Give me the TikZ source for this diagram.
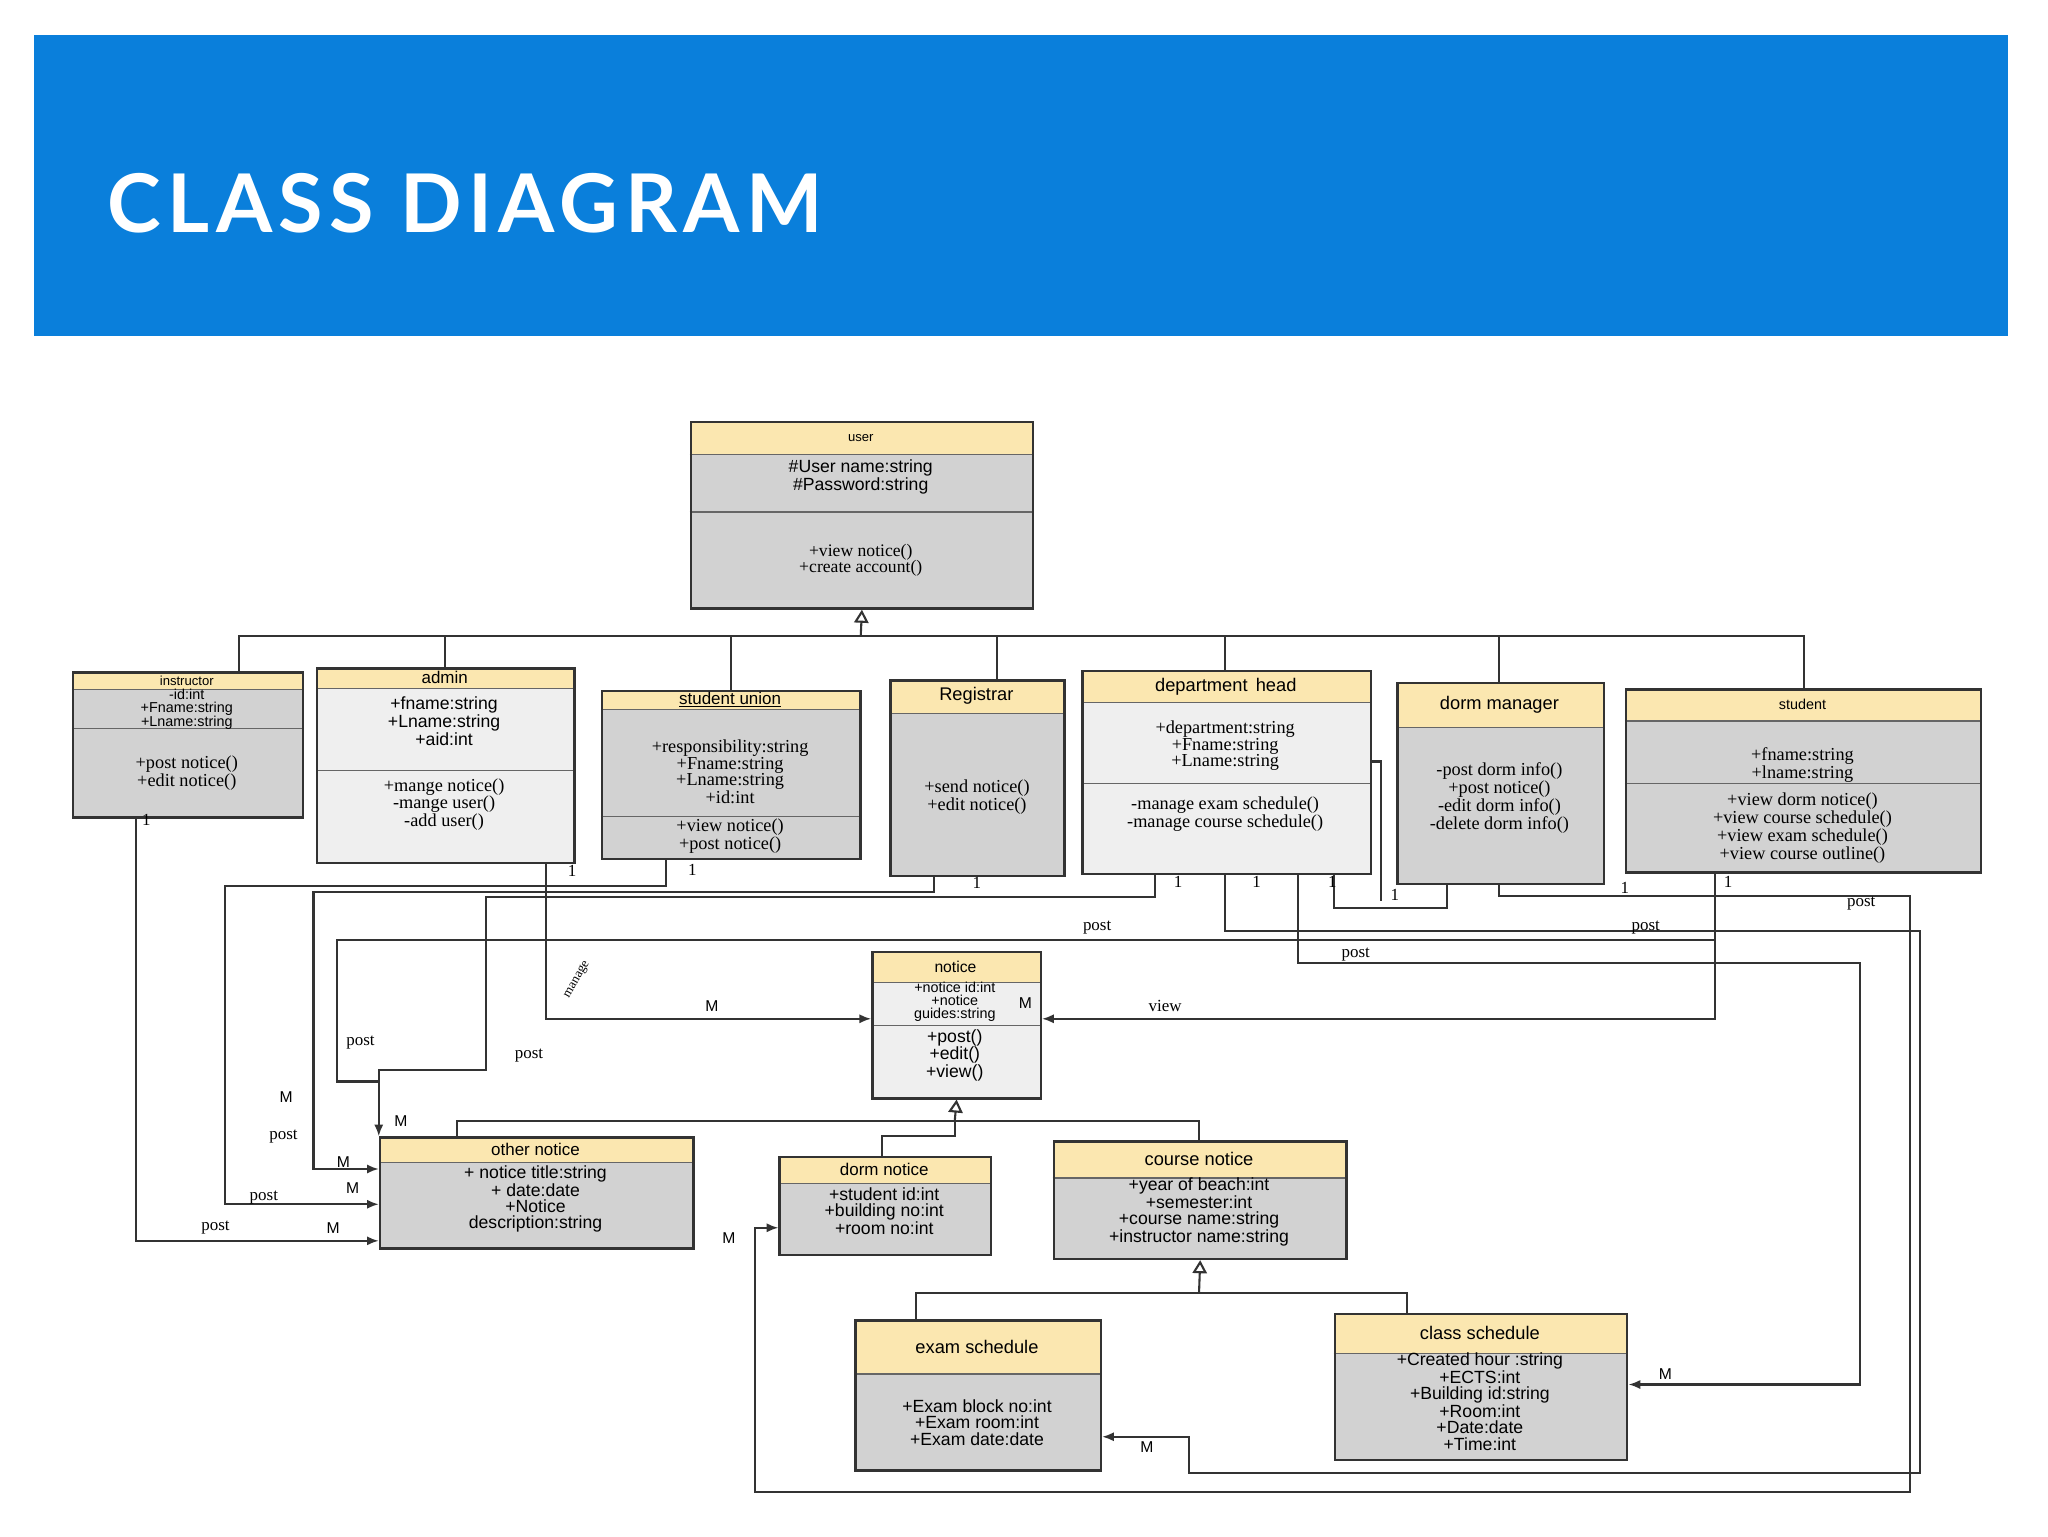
\documentclass[tikz,border=0pt]{standalone}
\usepackage{fontspec}
\setmainfont{Liberation Serif}
\setsansfont{Liberation Sans}
\newfontfamily\titlefont[LetterSpace=8]{Lato Bold}
\usetikzlibrary{arrows.meta,calc}
\definecolor{bar}{HTML}{0A7FDB}
\definecolor{hdr}{HTML}{FBE7B0}
\definecolor{gbody}{HTML}{D2D2D2}
\definecolor{lbody}{HTML}{EFEFEF}
\tikzset{
  cls/.style={draw=black!80,line width=1.8pt,inner sep=0pt},
  ttl/.style={font=\sffamily\fontsize{13}{13}\selectfont,inner sep=0pt},
  txs/.style={font=\sffamily\fontsize{13.5}{12.5}\selectfont,align=center,inner sep=0pt},
  txr/.style={font=\fontsize{14}{12.5}\selectfont,align=center,inner sep=0pt},
  conn/.style={line width=1.6pt,black!80},
  arr/.style={conn,-{Latex[length=9pt,width=7pt]}},
  gen/.style={conn,-{Triangle[open,length=10pt,width=11pt,fill=white]}},
  lab/.style={font=\fontsize{13}{13}\selectfont,inner sep=1pt},
  labs/.style={font=\sffamily\fontsize{12}{12}\selectfont,inner sep=1pt},
}
% name x1 y1 x2 y2 headery bodycolor title divider
\newcommand\ubox[9]{%
  \fill[#7] (#2,#3) rectangle (#4,#5);
  \fill[hdr] (#2,#3) rectangle (#4,#6);
  \draw[black!60,line width=1pt] (#2,#6) -- (#4,#6);
  \if\relax\detokenize{#9}\relax\else\draw[black!60,line width=1pt] (#2,#9) -- (#4,#9);\fi
  \node[cls,anchor=north west,minimum width={(#4-#2)*1pt},minimum height={(#5-#3)*1pt}] (#1) at (#2,#3) {};
  \node[ttl] (#1-t) at ({(#2+#4)/2},{(#3+#6)/2}) {#8};
}
\begin{document}
\begin{tikzpicture}[x=1pt,y=-1pt]
\useasboundingbox (0,0) rectangle (1568,1176);
\fill[white] (0,0) rectangle (1568,1176);
\fill[bar] (26,27) rectangle (1537,257);
\node[anchor=base west,text=white,inner sep=0] (title) at (82,178) {\titlefont\fontsize{62}{62}\selectfont CLASS DIAGRAM};

% classes
\ubox{user}{528}{322}{790}{465}{348}{gbody}{\fontsize{10}{10}\selectfont user}{392}
\node[txs] (user-a) at (659,365) {\#User name:string\\\#Password:string};
\node[txs] (user-m) at (659,429) {\textrm{+view notice()}\\\textrm{+create account()}};

\ubox{instr}{55}{514}{231}{625}{528}{gbody}{\fontsize{10}{10}\selectfont instructor}{558}
\node[txs,font=\sffamily\fontsize{11}{10}\selectfont] (instr-a) at (143,543) {-id:int\\+Fname:string\\+Lname:string};
\node[txr] (instr-m) at (143,592) {+post notice()\\+edit notice()};

\ubox{admin}{242}{511}{439}{660}{527}{lbody}{admin}{590}
\node[txs] (admin-a) at (340,552) {+fname:string\\+Lname:string\\+aid:int};
\node[txr] (admin-m) at (340,616) {+mange notice()\\-mange user()\\-add user()};

\ubox{su}{460}{528}{658}{657}{543}{gbody}{\underline{student union}}{625}
\node[txr] (su-a) at (559,591) {+responsibility:string\\+Fname:string\\+Lname:string\\+id:int};
\node[txr] (su-m) at (559,640) {+view notice()\\+post notice()};

\ubox{reg}{681}{520}{814}{670}{546}{gbody}{\fontsize{14}{14}\selectfont Registrar}{}
\node[txr] (reg-m) at (748,610) {+send notice()\\+edit notice()};

\ubox{dept}{828}{513}{1049}{668}{538}{lbody}{\fontsize{14}{14}\selectfont department\, head}{600}
\node[txr] (dept-a) at (938,571) {+department:string\\+Fname:string\\+Lname:string};
\node[txr] (dept-m) at (938,623) {-manage exam schedule()\\-manage course schedule()};

\ubox{dorm}{1069}{522}{1227}{676}{557}{gbody}{\fontsize{14}{14}\selectfont dorm manager}{}
\node[txr] (dorm-m) at (1148,611) {-post dorm info()\\+post notice()\\-edit dorm info()\\-delete dorm info()};

\ubox{stud}{1244}{527}{1516}{667}{552}{gbody}{\fontsize{11}{11}\selectfont student}{600}
\node[txr] (stud-a) at (1380,586) {+fname:string\\+lname:string};
\node[txr] (stud-m) at (1380,634) {+view dorm notice()\\+view course schedule()\\+view exam schedule()\\+view course outline()};

\ubox{notice}{667}{728}{796}{840}{752}{lbody}{\fontsize{12}{12}\selectfont notice}{785}
\node[txs,font=\sffamily\fontsize{11}{10}\selectfont] (notice-a) at (731,767) {+notice id:int\\+notice\\guides:string};
\node[txs] (notice-m) at (731,808) {+post()\\+edit()\\+view()};

\ubox{other}{290}{870}{530}{955}{890}{gbody}{other notice}{}
\node[txs] (other-a) at (410,918) {+ notice title:string\\+ date:date\\+Notice\\description:string};

\ubox{dn}{596}{885}{758}{960}{906}{gbody}{dorm notice}{}
\node[txs] (dn-a) at (677,927) {+student id:int\\+building no:int\\+room no:int};

\ubox{cn}{806}{873}{1030}{963}{902}{gbody}{\fontsize{14}{14}\selectfont course notice}{}
\node[txs] (cn-a) at (918,928) {+year of beach:int\\+semester:int\\+course name:string\\+instructor name:string};

\ubox{exam}{654}{1010}{842}{1125}{1052}{gbody}{\fontsize{14}{14}\selectfont exam schedule}{}
\node[txs] (exam-a) at (748,1089) {+Exam block no:int\\+Exam room:int\\+Exam date:date};

\ubox{cs}{1021}{1005}{1245}{1117}{1036}{gbody}{\fontsize{14}{14}\selectfont class schedule}{}
\node[txs] (cs-a) at (1133,1073) {+Created hour :string\\+ECTS:int\\+Building id:string\\+Room:int\\+Date:date\\+Time:int};

% generalization to user
\coordinate (bus) at (659,487);
\draw[gen] (bus) -- (user.south);
\draw[conn] (instr.north -| 183,0) |- (1381,487) -- (stud.north -| 1381,0);
\foreach \n/\x in {admin/341,su/560,reg/763,dept/938,dorm/1148}
  \draw[conn] (\n.north -| \x,0) -- (\x,487);

% generalization to notice
\draw[gen] (731,858) -- (notice.south);
\draw[conn] (other.north -| 350,0) |- (918,858) -- (cn.north -| 918,0);
\draw[conn] (dn.north -| 675,0) |- (731,870) -- (731,858);
% generalization to course notice
\draw[gen] (918,990) -- (cn.south);
\draw[conn] (exam.north -| 701,0) |- (1077,990) -- (cs.north -| 1077,0);

% associations to other notice
\draw[arr] (instr.south -| 104,0) |- (other.south west |- 0,950);
\draw[arr] (su.south -| 510,0) |- (172,678) |- (other.west |- 0,922);
\draw[arr] (reg.south -| 715,0) |- (240,683) |- (other.west |- 0,895);
\draw[arr] (dept.south -| 884,0) |- (372,687) |- (290,819) -- (other.north west);
\draw[conn] (stud.south -| 1313,0) |- (258,720) |- (290,828);
% admin manage notice
\draw[arr] (admin.south -| 418,0) |- (notice.west |- 0,780);
% student view notice
\draw[arr] (1313,720) |- (notice.east |- 0,780);
% dept head -> exam schedule
\draw[arr] (dept.south -| 938,0) |- (1470,713) |- (910,1128) |- (exam.east |- 0,1100);
% dept head -> class schedule
\draw[arr] (dept.south -| 994,0) |- (1424,737) |- (cs.east |- 0,1060);
% dorm manager -> dorm notice
\draw[arr] (dorm.south -| 1148,0) |- (1462,686) |- (578,1142) |- (dn.west |- 0,940);
% dept / dorm extra
\draw[conn] (dept.south -| 1021,0) |- (1108,695) -- (dorm.south -| 1108,0);
\draw[conn] (1049,583) -| (1057,690);

% labels
\node[lab] (l1) at (112,628) {1};
\node[lab] (l2) at (438,667) {1};
\node[lab] (l3) at (530,666) {1};
\node[lab] (l4) at (748,676) {1};
\node[lab] (l5) at (902,675) {1};
\node[lab] (l6) at (962,675) {1};
\node[lab] (l7) at (1020,675) {1};
\node[lab] (l8) at (1068,685) {1};
\node[lab] (l9) at (1244,680) {1};
\node[lab] (l10) at (1323,675) {1};
\node[lab] (p1) at (840,710) {post};
\node[lab] (p2) at (1260,710) {post};
\node[lab] (p3) at (1038,731) {post};
\node[lab] (p4) at (1425,692) {post};
\node[lab] (p5) at (276,798) {post};
\node[lab] (p6) at (405,808) {post};
\node[lab] (p7) at (217,870) {post};
\node[lab] (p8) at (202,917) {post};
\node[lab] (p9) at (165,940) {post};
\node[lab] (v1) at (892,770) {view};
\node[lab,rotate=60,font=\fontsize{10}{10}\selectfont] (mg) at (442,750) {manage};
\node[labs] (m1) at (545,770) {M};
\node[labs] (m2) at (785,768) {M};
\node[labs] (m3) at (219,840) {M};
\node[labs] (m4) at (307,858) {M};
\node[labs] (m5) at (263,890) {M};
\node[labs] (m6) at (270,910) {M};
\node[labs] (m7) at (255,940) {M};
\node[labs] (m8) at (558,948) {M};
\node[labs] (m9) at (878,1108) {M};
\node[labs] (m10) at (1275,1052) {M};
\end{tikzpicture}
\end{document}
